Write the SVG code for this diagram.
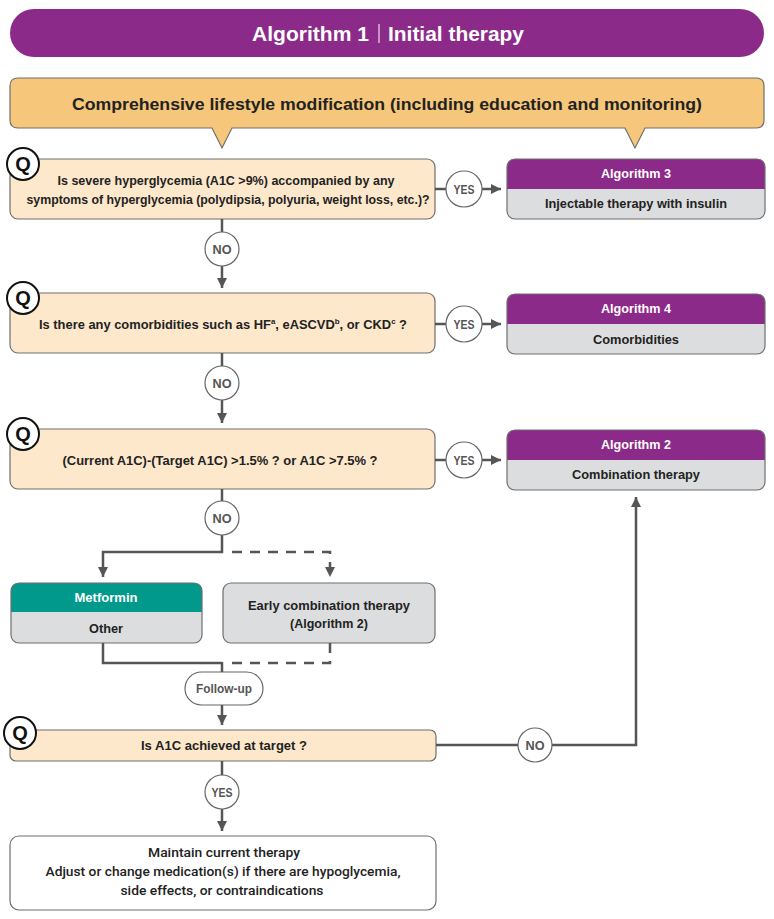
<svg xmlns="http://www.w3.org/2000/svg" width="774" height="919" viewBox="0 0 774 919">
<style>
text{font-family:"Liberation Sans",Arial,sans-serif;font-weight:bold;}
.q{fill:#fde8cc;stroke:#6f6f6f;stroke-width:1.2;}
.gray{fill:#dcddde;stroke:#6f6f6f;stroke-width:1.2;}
.purple{fill:#8c2a8a;}
.teal{fill:#00998c;}
.frame{fill:none;stroke:#6f6f6f;stroke-width:1.2;}
.qc{fill:#fff;stroke:#111;stroke-width:2;}
.qt{font-size:20px;fill:#111;text-anchor:middle;}
.t{font-size:13px;fill:#222;text-anchor:middle;}
.w{font-size:13px;fill:#fff;text-anchor:middle;}
.lbl{fill:#fff;stroke:#666;stroke-width:1.2;}
.lt{font-size:12px;fill:#555;text-anchor:middle;}
.c{fill:none;stroke:#555;stroke-width:2.5;}
.d{fill:none;stroke:#555;stroke-width:2.5;stroke-dasharray:10 8;}
.m{font-family:Roboto,"Liberation Sans",sans-serif;font-weight:500;font-size:13px;fill:#222;text-anchor:middle;}
</style>
<defs>
<marker id="ah" viewBox="0 0 10 10" refX="10" refY="5" markerWidth="10" markerHeight="10" markerUnits="userSpaceOnUse" orient="auto">
<path d="M0,0 L10,5 L0,10 z" fill="#555"/>
</marker>
</defs>

<g id="title">
<rect x="10" y="9" width="754" height="48" rx="24" class="purple"/>
<text x="252" y="41" font-size="21" fill="#fff" textLength="117" lengthAdjust="spacingAndGlyphs">Algorithm 1</text>
<line x1="379" y1="24" x2="379" y2="43" stroke="#fff" stroke-width="1"/>
<text x="388" y="41" font-size="21" fill="#fff" textLength="136" lengthAdjust="spacingAndGlyphs">Initial therapy</text>
</g>

<g id="lifestyle">
<path d="M18,78 H756 Q764,78 764,86 V120 Q764,128 756,128 H645 L635,148 L625,128 H232 L222,148 L212,128 H18 Q10,128 10,120 V86 Q10,78 18,78 Z" fill="#f6c77b" stroke="#6f6f6f" stroke-width="1.2"/>
<text x="387" y="110" font-size="17" fill="#222" text-anchor="middle" textLength="630" lengthAdjust="spacingAndGlyphs">Comprehensive lifestyle modification (including education and monitoring)</text>
</g>

<g id="q1">
<rect x="10" y="159" width="425" height="60" rx="8" class="q"/>
<circle cx="23" cy="164" r="16" class="qc"/>
<text x="23" y="171" class="qt">Q</text>
<text x="226" y="185" class="t" textLength="337" lengthAdjust="spacingAndGlyphs">Is severe hyperglycemia (A1C &gt;9%) accompanied by any</text>
<text x="228" y="204" class="t" textLength="403" lengthAdjust="spacingAndGlyphs">symptoms of hyperglycemia (polydipsia, polyuria, weight loss, etc.)?</text>
</g>

<g id="alg3">
<path d="M515,159 H757 Q765,159 765,167 V189 H507 V167 Q507,159 515,159 Z" class="purple"/>
<path d="M507,189 H765 V211 Q765,219 757,219 H515 Q507,219 507,211 Z" fill="#dcddde"/>
<rect x="507" y="159" width="258" height="60" rx="8" class="frame"/>
<text x="636" y="178" class="w" textLength="70" lengthAdjust="spacingAndGlyphs">Algorithm 3</text>
<text x="636" y="208" class="t" textLength="182" lengthAdjust="spacingAndGlyphs">Injectable therapy with insulin</text>
</g>

<g id="q2">
<rect x="10" y="293" width="425" height="60" rx="8" class="q"/>
<circle cx="23" cy="298" r="16" class="qc"/>
<text x="23" y="305" class="qt">Q</text>
<text x="223" y="329" class="t" textLength="368" lengthAdjust="spacingAndGlyphs">Is there any comorbidities such as HF<tspan font-size="8" dy="-5">a</tspan><tspan dy="5">, eASCVD</tspan><tspan font-size="8" dy="-5">b</tspan><tspan dy="5">, or CKD</tspan><tspan font-size="8" dy="-5">c</tspan><tspan dy="5"> ?</tspan></text>
</g>

<g id="alg4">
<path d="M515,294 H757 Q765,294 765,302 V324 H507 V302 Q507,294 515,294 Z" class="purple"/>
<path d="M507,324 H765 V346 Q765,354 757,354 H515 Q507,354 507,346 Z" fill="#dcddde"/>
<rect x="507" y="294" width="258" height="60" rx="8" class="frame"/>
<text x="636" y="313" class="w" textLength="70" lengthAdjust="spacingAndGlyphs">Algorithm 4</text>
<text x="636" y="344" class="t" textLength="86" lengthAdjust="spacingAndGlyphs">Comorbidities</text>
</g>

<g id="q3">
<rect x="10" y="429" width="425" height="60" rx="8" class="q"/>
<circle cx="23" cy="434" r="16" class="qc"/>
<text x="23" y="441" class="qt">Q</text>
<text x="220" y="465" class="t" textLength="315" lengthAdjust="spacingAndGlyphs">(Current A1C)-(Target A1C) &gt;1.5% ? or A1C &gt;7.5% ?</text>
</g>

<g id="alg2">
<path d="M515,430 H757 Q765,430 765,438 V460 H507 V438 Q507,430 515,430 Z" class="purple"/>
<path d="M507,460 H765 V482 Q765,490 757,490 H515 Q507,490 507,482 Z" fill="#dcddde"/>
<rect x="507" y="430" width="258" height="60" rx="8" class="frame"/>
<text x="636" y="449" class="w" textLength="70" lengthAdjust="spacingAndGlyphs">Algorithm 2</text>
<text x="636" y="479" class="t" textLength="128" lengthAdjust="spacingAndGlyphs">Combination therapy</text>
</g>

<g id="metformin">
<path d="M19,583 H194 Q202,583 202,591 V612 H11 V591 Q11,583 19,583 Z" class="teal"/>
<path d="M11,612 H202 V635 Q202,643 194,643 H19 Q11,643 11,635 Z" fill="#dcddde"/>
<rect x="11" y="583" width="191" height="60" rx="8" class="frame"/>
<text x="106" y="602" class="w" textLength="63" lengthAdjust="spacingAndGlyphs">Metformin</text>
<text x="106" y="633" class="t" textLength="34" lengthAdjust="spacingAndGlyphs">Other</text>
</g>

<g id="early">
<rect x="223" y="583" width="212" height="60" rx="8" class="gray"/>
<text x="329" y="610" class="t" textLength="162" lengthAdjust="spacingAndGlyphs">Early combination therapy</text>
<text x="329" y="628" class="t" textLength="78" lengthAdjust="spacingAndGlyphs">(Algorithm 2)</text>
</g>

<g id="q4">
<rect x="10" y="730" width="426" height="31" rx="6" class="q"/>
<circle cx="20" cy="733" r="16" class="qc"/>
<text x="20" y="740" class="qt">Q</text>
<text x="224" y="750" class="t" textLength="166" lengthAdjust="spacingAndGlyphs">Is A1C achieved at target ?</text>
</g>

<g id="maintain">
<rect x="10" y="836" width="426" height="74" rx="9" fill="#fff" stroke="#6f6f6f" stroke-width="1.2"/>
<text x="224" y="857" class="m" textLength="152" lengthAdjust="spacingAndGlyphs">Maintain current therapy</text>
<text x="223" y="876" class="m" textLength="355" lengthAdjust="spacingAndGlyphs">Adjust or change medication(s) if there are hypoglycemia,</text>
<text x="222" y="895" class="m" textLength="203" lengthAdjust="spacingAndGlyphs">side effects, or contraindications</text>
</g>

<g id="connectors">
<line x1="222" y1="219" x2="222" y2="232" class="c"/>
<line x1="222" y1="266" x2="222" y2="288" class="c" marker-end="url(#ah)"/>
<line x1="435" y1="189" x2="446" y2="189" class="c"/>
<line x1="482" y1="189" x2="501" y2="189" class="c" marker-end="url(#ah)"/>

<line x1="222" y1="353" x2="222" y2="366" class="c"/>
<line x1="222" y1="400" x2="222" y2="423" class="c" marker-end="url(#ah)"/>
<line x1="435" y1="324" x2="446" y2="324" class="c"/>
<line x1="482" y1="324" x2="501" y2="324" class="c" marker-end="url(#ah)"/>

<line x1="435" y1="460" x2="446" y2="460" class="c"/>
<line x1="482" y1="460" x2="501" y2="460" class="c" marker-end="url(#ah)"/>
<line x1="222" y1="489" x2="222" y2="501" class="c"/>
<path d="M222,535 V552 H103 V577" class="c" marker-end="url(#ah)"/>
<path d="M232,552 H330 V577" class="d" marker-end="url(#ah)"/>

<path d="M103,643 V663 H222" class="c"/>
<path d="M330,643 V663 H232" class="d"/>
<line x1="222" y1="662" x2="222" y2="672" class="c"/>
<line x1="222" y1="705" x2="222" y2="725" class="c" marker-end="url(#ah)"/>

<line x1="436" y1="745" x2="518" y2="745" class="c"/>
<path d="M552,745 H636 V497" class="c" marker-end="url(#ah)"/>
<line x1="222" y1="761" x2="222" y2="775" class="c"/>
<line x1="222" y1="809" x2="222" y2="831" class="c" marker-end="url(#ah)"/>

<circle cx="464" cy="189" r="18" class="lbl"/>
<text x="464" y="194" class="lt" textLength="21" lengthAdjust="spacingAndGlyphs">YES</text>
<circle cx="464" cy="324" r="18" class="lbl"/>
<text x="464" y="329" class="lt" textLength="21" lengthAdjust="spacingAndGlyphs">YES</text>
<circle cx="464" cy="460" r="18" class="lbl"/>
<text x="464" y="465" class="lt" textLength="21" lengthAdjust="spacingAndGlyphs">YES</text>
<circle cx="222" cy="249" r="17" class="lbl"/>
<text x="222" y="254" class="lt" textLength="19" lengthAdjust="spacingAndGlyphs">NO</text>
<circle cx="222" cy="383" r="17" class="lbl"/>
<text x="222" y="388" class="lt" textLength="19" lengthAdjust="spacingAndGlyphs">NO</text>
<circle cx="222" cy="518" r="17" class="lbl"/>
<text x="222" y="523" class="lt" textLength="19" lengthAdjust="spacingAndGlyphs">NO</text>
<rect x="185" y="672" width="78" height="33" rx="16.5" class="lbl"/>
<text x="224" y="693" class="lt" textLength="56" lengthAdjust="spacingAndGlyphs">Follow-up</text>
<circle cx="535" cy="745" r="17" class="lbl"/>
<text x="535" y="750" class="lt" textLength="19" lengthAdjust="spacingAndGlyphs">NO</text>
<circle cx="222" cy="792" r="17" class="lbl"/>
<text x="222" y="797" class="lt" textLength="21" lengthAdjust="spacingAndGlyphs">YES</text>
</g>
</svg>
